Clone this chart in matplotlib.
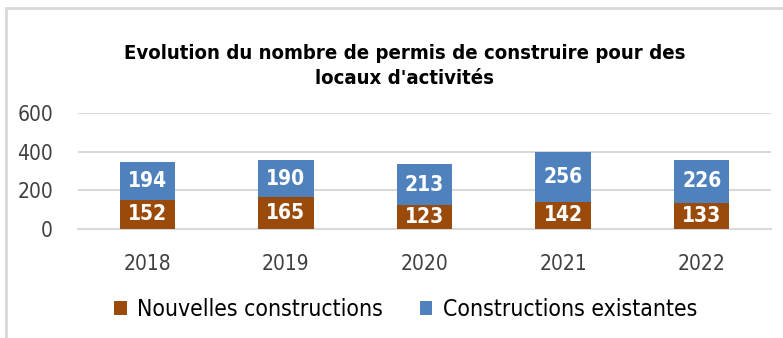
import matplotlib.pyplot as plt
import numpy as np
from matplotlib.patches import Rectangle

annees = ['2018', '2019', '2020', '2021', '2022']
nouvelles = [152, 165, 123, 142, 133]
existantes = [194, 190, 213, 256, 226]

brun = '#9a4a0b'
bleu = '#4f81bd'
gris = '#d9d9d9'

plt.rcParams['font.family'] = ['DejaVu Sans']
plt.rcParams['font.stretch'] = 'condensed'

fig = plt.figure(figsize=(7.83, 3.38), dpi=100)
# cadre gris autour du graphique
fig.patches.append(Rectangle((5.5 / 783, -0.1), 1.2, (338 - 8.5) / 338 + 0.1,
                             transform=fig.transFigure, fill=False,
                             edgecolor=gris, linewidth=2))

ax = fig.add_axes([78 / 783, 109 / 338, 693 / 783, 116 / 338])
x = np.arange(len(annees))
b1 = ax.bar(x, nouvelles, width=0.4, color=brun, label='Nouvelles constructions', zorder=3)
b2 = ax.bar(x, existantes, width=0.4, bottom=nouvelles, color=bleu,
            label='Constructions existantes', zorder=3)

for bars in (b1, b2):
    ax.bar_label(bars, label_type='center', color='white', fontsize=15,
                 fontweight='bold')

ax.set_xlim(-0.5, len(annees) - 0.5)
ax.set_ylim(0, 600)
ax.set_yticks([0, 200, 400, 600])
ax.set_xticks(x)
ax.set_xticklabels(annees)
ax.yaxis.grid(True, color=gris, linewidth=1.5, zorder=0)
for s in ['top', 'right', 'left']:
    ax.spines[s].set_visible(False)
ax.spines['bottom'].set_color(gris)
ax.spines['bottom'].set_linewidth(1.5)
ax.tick_params(axis='both', length=0, labelsize=15, colors='#404040')
ax.tick_params(axis='x', pad=18)
ax.tick_params(axis='y', pad=18)

fig.text(0.517, 0.805, "Evolution du nombre de permis de construire pour des\nlocaux d'activités",
         ha='center', va='center', fontsize=14.6, fontweight='bold', linespacing=1.4)

fig.legend(loc='center', bbox_to_anchor=(0.518, 0.083), ncol=2, frameon=False,
           fontsize=16.5, handlelength=0.55, handleheight=0.55, handletextpad=0.45,
           columnspacing=1.6)

fig.savefig('out.png', dpi=100)
